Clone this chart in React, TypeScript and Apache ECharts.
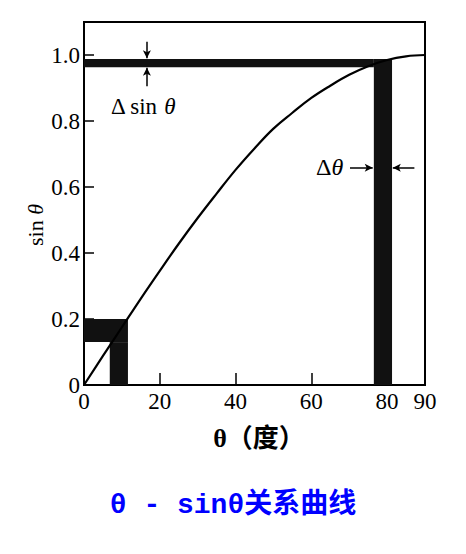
import React, { useEffect, useRef } from "react";
import * as echarts from "echarts";

// θ in degrees and sinθ values
const thetaDeg = [0, 5, 10, 15, 20, 25, 30, 35, 40, 45, 50, 55, 60, 65, 70, 75, 80, 85, 90];
const sinValues = [0, 0.088, 0.175, 0.262, 0.346, 0.428, 0.506, 0.58, 0.652, 0.717, 0.777, 0.825, 0.87, 0.907, 0.94, 0.966, 0.985, 0.996, 1.0];

const xTickLabels = [0, 20, 40, 60, 80, 90];
const xTicks = [20, 40, 60, 80];
const yTickLabels = [0, 0.2, 0.4, 0.6, 0.8, 1.0];
const yTicks = [0.2, 0.4, 0.6, 0.8, 1.0];

// shaded regions (data units)
const bandHighSin = [0.963, 0.988];
const barHighTheta = [76.5, 81.3];
const bandLowSin = [0.13, 0.2];
const barLowTheta = [6.8, 11.6];

const SERIF = "'Liberation Serif', 'Times New Roman', serif";

export default function App() {
  const ref = useRef<HTMLDivElement>(null);

  useEffect(() => {
    if (!ref.current) return;
    const chart = echarts.init(ref.current, null, { renderer: "svg" });
    const curve = thetaDeg.map((t, i) => [t, sinValues[i]]);
    const dark = "#111";

    chart.setOption({
      animation: false,
      backgroundColor: "#fff",
      title: {
        text: "θ - sinθ关系曲线",
        left: "center",
        top: 486,
        textStyle: {
          color: "#0000ff",
          fontSize: 28,
          fontWeight: "bold",
          fontFamily: "'Liberation Mono', 'Noto Sans CJK SC', monospace",
        },
      },
      grid: {
        left: 84,
        top: 22,
        width: 341,
        height: 363,
        show: true,
        borderColor: "#000",
        borderWidth: 2,
        backgroundColor: "transparent",
      },
      xAxis: {
        type: "value",
        min: 0,
        max: 90,
        interval: 10,
        splitLine: { show: false },
        axisLine: { lineStyle: { color: "#000", width: 2 } },
        axisTick: {
          inside: true,
          length: 12,
          customValues: xTicks,
          lineStyle: { color: "#000", width: 1.5 },
        },
        axisLabel: {
          customValues: xTickLabels,
          color: "#000",
          fontSize: 23,
          fontFamily: SERIF,
          margin: 5,
        },
      },
      yAxis: {
        type: "value",
        min: 0,
        max: 1.1,
        interval: 0.1,
        splitLine: { show: false },
        axisLine: { lineStyle: { color: "#000", width: 2 } },
        axisTick: {
          inside: true,
          length: 10,
          customValues: yTicks,
          lineStyle: { color: "#000", width: 1.5 },
        },
        axisLabel: {
          customValues: yTickLabels,
          color: "#000",
          fontSize: 23,
          fontFamily: SERIF,
          margin: 4,
          formatter: (v: number) => (v === 0 ? "0" : v.toFixed(1)),
        },
      },
      series: [
        {
          type: "line",
          data: curve,
          smooth: 0.4,
          showSymbol: false,
          silent: true,
          lineStyle: { color: "#000", width: 2.2 },
          markArea: {
            silent: true,
            itemStyle: { color: dark, opacity: 1 },
            data: [
              [{ coord: [0, bandHighSin[0]] }, { coord: [barHighTheta[0], bandHighSin[1]] }],
              [{ coord: [barHighTheta[0], 0] }, { coord: [barHighTheta[1], bandHighSin[1]] }],
              [{ coord: [0, bandLowSin[0]] }, { coord: [barLowTheta[1], bandLowSin[1]] }],
              [{ coord: [barLowTheta[0], 0] }, { coord: [barLowTheta[1], bandLowSin[0]] }],
            ],
          },
          markLine: {
            silent: true,
            symbol: ["none", "arrow"],
            symbolSize: [6, 8],
            label: { show: false },
            lineStyle: { color: "#000", width: 1.5, type: "solid" },
            data: [
              [{ coord: [16.6, 1.04] }, { coord: [16.6, 0.99] }],
              [{ coord: [16.6, 0.905] }, { coord: [16.6, 0.961] }],
              [{ coord: [70.2, 0.658] }, { coord: [76.2, 0.658] }],
              [{ coord: [87.2, 0.658] }, { coord: [81.5, 0.658] }],
            ],
          },
        },
      ],
      graphic: [
        {
          type: "text",
          x: 111,
          y: 95,
          silent: true,
          style: {
            text: "Δ sin {i|θ}",
            font: `23px ${SERIF}`,
            fill: "#000",
            rich: { i: { fontStyle: "italic", fontSize: 23, fontFamily: SERIF, fill: "#000" } },
          },
        },
        {
          type: "text",
          x: 316,
          y: 155,
          silent: true,
          style: {
            text: "Δ{i|θ}",
            font: `24px ${SERIF}`,
            fill: "#000",
            rich: { i: { fontStyle: "italic", fontSize: 24, fontFamily: SERIF, fill: "#000" } },
          },
        },
        {
          type: "text",
          x: 35,
          y: 225,
          rotation: Math.PI / 2,
          silent: true,
          style: {
            text: "sin {i|θ}",
            font: `22px ${SERIF}`,
            fill: "#000",
            align: "center",
            verticalAlign: "middle",
            rich: { i: { fontStyle: "italic", fontSize: 22, fontFamily: SERIF, fill: "#000" } },
          },
        },
        {
          type: "text",
          x: 259,
          y: 438,
          silent: true,
          style: {
            text: "θ（度）",
            font: `bold 26px ${SERIF}, 'Noto Sans CJK SC'`,
            fill: "#000",
            align: "center",
            verticalAlign: "middle",
          },
        },
      ],
    });

    return () => chart.dispose();
  }, []);

  return (
    <div
      ref={ref}
      style={{ position: "absolute", left: 0, top: 0, width: 466, height: 554 }}
    />
  );
}
